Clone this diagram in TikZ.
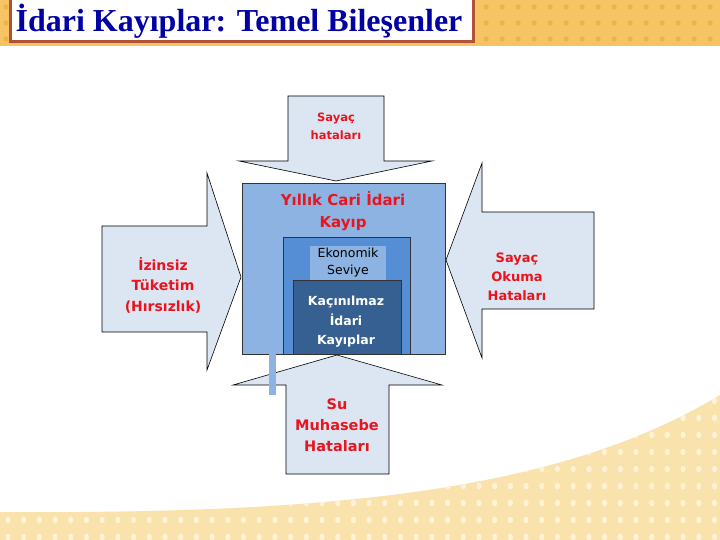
\documentclass[tikz,border=0pt]{standalone}
\usepackage{fontspec}
\setmainfont{Liberation Serif}
\newfontfamily\lblfont{DejaVu Sans}
\definecolor{bandtop}{RGB}{246,196,100}
\definecolor{banddot}{RGB}{238,178,70}
\definecolor{bandbot}{RGB}{250,226,172}
\definecolor{botdot}{RGB}{255,242,214}
\definecolor{titleblue}{RGB}{0,0,165}
\definecolor{titleframe}{RGB}{178,82,52}
\definecolor{arrowfill}{RGB}{220,230,242}
\definecolor{midblue}{RGB}{141,179,226}
\definecolor{innerblue}{RGB}{85,142,213}
\definecolor{darkblue}{RGB}{54,96,146}
\definecolor{lblred}{RGB}{232,20,30}
\tikzset{
  arrowshape/.style={fill=arrowfill, draw=black, line width=0.6pt, line join=miter},
  boxshape/.style={draw=black!80, line width=0.6pt},
  redlbl/.style={text=lblred, align=center, inner sep=0pt, font=\lblfont\bfseries},
}
\begin{document}
\begin{tikzpicture}[x=1pt,y=-1pt]
\useasboundingbox (0,0) rectangle (720,540);
\fill[white] (0,0) rectangle (720,540);
% top band
\fill[bandtop] (0,0) rectangle (720,46);
\begin{scope}
\clip (0,0) rectangle (720,46);
\foreach \i in {0,...,45} {\foreach \j in {0,1,2} {\fill[banddot] (\i*16+6,\j*16+7) circle (2.6);}}
\end{scope}
% bottom wave
\path[fill=bandbot] (0,512) .. controls (330,514) and (560,492) .. (720,395) -- (720,540) -- (0,540) -- cycle;
\begin{scope}
\clip (0,512) .. controls (330,514) and (560,492) .. (720,395) -- (720,540) -- (0,540) -- cycle;
\foreach \i in {0,...,45} {\foreach \j in {0,...,9} {\fill[botdot] (\i*15.7+8,\j*17+384) ellipse (2.6 and 3.4);}}
\end{scope}
% title
\draw[titleframe, line width=3pt, fill=white] (10,-6) rectangle (473,42);
\node[anchor=base, text=titleblue, font=\fontsize{32}{36}\selectfont\bfseries, inner sep=0pt] (title) at (239,32) {İdari Kayıplar: Temel Bileşenler};
% top arrow (down)
\draw[arrowshape] (288,96) -- (384,96) -- (384,161) -- (432,161) -- (336,181) -- (239,161) -- (288,161) -- cycle;
% left arrow (right)
\draw[arrowshape] (102,226) -- (207,226) -- (207,173) -- (241,277) -- (207,370) -- (207,332) -- (102,332) -- cycle;
% right arrow (left)
\draw[arrowshape] (594,212) -- (482,212) -- (482,163) -- (446,260) -- (482,358) -- (482,309) -- (594,309) -- cycle;
% main boxes
\draw[boxshape, fill=midblue] (242,183) rectangle (445,354);
\draw[boxshape, fill=innerblue] (283,237) rectangle (410,354);
\fill[midblue] (310,246) rectangle (386,281);
\draw[boxshape, fill=darkblue] (293,280) rectangle (401,354);
% bottom arrow (up)
\draw[arrowshape] (286,474) -- (389,474) -- (389,385) -- (442,385) -- (337,355) -- (233,385) -- (286,385) -- cycle;
\fill[midblue] (269,354) rectangle (276,395);
% labels
\node[redlbl, font=\lblfont\bfseries\fontsize{11.5}{18}\selectfont] (sayac) at (336,126) {Sayaç\\hataları};
\node[redlbl, font=\lblfont\bfseries\fontsize{15}{22}\selectfont] (yillik) at (343,211) {Yıllık Cari İdari\\Kayıp};
\node[redlbl, font=\lblfont\bfseries\fontsize{14}{20.5}\selectfont] (izinsiz) at (163,285) {İzinsiz\\Tüketim\\(Hırsızlık)};
\node[redlbl, font=\lblfont\bfseries\fontsize{13}{19}\selectfont] (okuma) at (517,277) {Sayaç\\Okuma\\Hataları};
\node[redlbl, font=\lblfont\bfseries\fontsize{14.5}{21}\selectfont] (muhasebe) at (337,425) {Su\\Muhasebe\\Hataları};
\node[align=center, inner sep=0pt, text=white, font=\lblfont\bfseries\fontsize{12.5}{19.5}\selectfont] (kacinilmaz) at (346,322) {Kaçınılmaz\\İdari\\Kayıplar};
\node[align=center, inner sep=0pt, text=black, font=\lblfont\fontsize{12.5}{17}\selectfont] (ekonomik) at (348,263) {Ekonomik\\Seviye};
\end{tikzpicture}
\end{document}
